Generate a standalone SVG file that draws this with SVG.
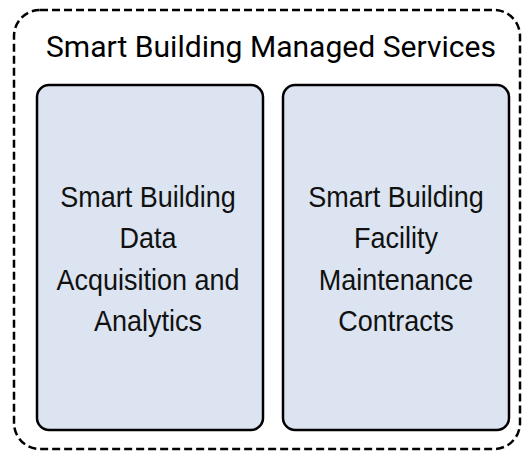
<svg xmlns="http://www.w3.org/2000/svg" width="522" height="451" viewBox="0 0 522 451">
  <style>
    .frame { fill: none; stroke: #000; stroke-width: 2.5; stroke-dasharray: 8 4; }
    .box { fill: #dbe4f0; stroke: #000; stroke-width: 2.5; }
    .title { font-family: Roboto, "Liberation Sans", Arial, sans-serif; font-size: 30px; fill: #000; }
    .label { font-family: "Liberation Sans", Arial, sans-serif; font-size: 30px; fill: #111; text-anchor: middle; }
  </style>
  <rect width="522" height="451" fill="#fff"/>

  <!-- outer service boundary -->
  <g id="managed-services">
    <rect class="frame" x="14" y="10" width="506" height="439" rx="26" ry="26"/>
    <text class="title" x="46" y="57" textLength="450" lengthAdjust="spacingAndGlyphs">Smart Building Managed Services</text>
  </g>

  <g id="data-acquisition">
    <rect class="box" x="37" y="85" width="226" height="345" rx="12" ry="12"/>
    <!-- labels are drawn slightly condensed -->
    <g transform="translate(148 0) scale(0.9 1)">
      <text class="label" x="0" y="207">Smart Building</text>
      <text class="label" x="0" y="248.5">Data</text>
      <text class="label" x="0" y="290">Acquisition and</text>
      <text class="label" x="0" y="331">Analytics</text>
    </g>
  </g>

  <g id="facility-maintenance">
    <rect class="box" x="283" y="85" width="226" height="345" rx="12" ry="12"/>
    <g transform="translate(396 0) scale(0.9 1)">
      <text class="label" x="0" y="207">Smart Building</text>
      <text class="label" x="0" y="248.5">Facility</text>
      <text class="label" x="0" y="290">Maintenance</text>
      <text class="label" x="0" y="331">Contracts</text>
    </g>
  </g>

  <g id="connectors"></g>
</svg>
